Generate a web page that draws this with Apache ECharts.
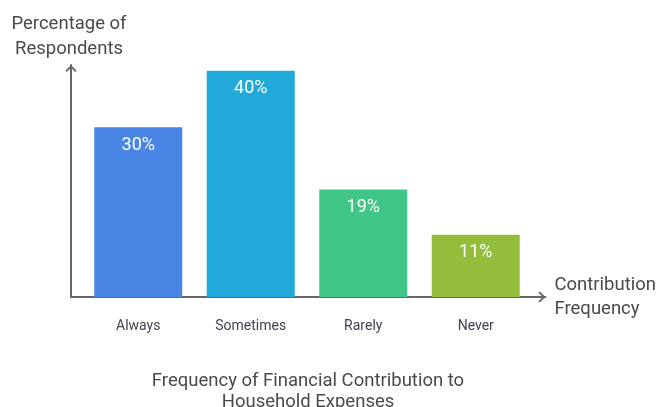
<!DOCTYPE html>
<html>
<head>
<meta charset="utf-8">
<script src="https://cdn.jsdelivr.net/npm/echarts@6/dist/echarts.min.js"></script>
<style>
  html, body { margin: 0; padding: 0; background: #ffffff; }
  #chart { width: 659px; height: 407px; }
</style>
</head>
<body>
<div id="chart"></div>
<script>
// Survey answers: how often respondents contribute to household expenses
const categories = ['Always', 'Sometimes', 'Rarely', 'Never'];
const percentages = [30, 40, 19, 11];
const barColors = ['#4a84e4', '#20a9d9', '#40c687', '#93bd3b'];

const titleText = 'Frequency of Financial Contribution to\nHousehold Expenses';
const yName = 'Percentage of\nRespondents';
const xName = 'Contribution\nFrequency';

const FONT = 'Roboto, "Noto Sans", sans-serif';
// open chevron pointing up; ECharts rotates it along each axis
const chevron = 'path://M0,5.6 L5.5,0 L11,5.6 L9.7,6.9 L5.5,2.6 L1.3,6.9 Z';

const chart = echarts.init(document.getElementById('chart'));
chart.setOption({
  animation: false,
  backgroundColor: '#ffffff',
  title: {
    text: titleText,
    left: 303,
    top: 366,
    textAlign: 'center',
    textStyle: { fontFamily: FONT, fontSize: 18.5, fontWeight: 'normal', color: '#4a4a4a', lineHeight: 21 }
  },
  grid: [
    // bars
    { left: 82, width: 450, top: 65, bottom: 110 },
    // axis frame with arrows
    { left: 71, right: 111, top: 65, bottom: 110 }
  ],
  xAxis: [
    {
      type: 'category',
      gridIndex: 0,
      data: categories,
      boundaryGap: true,
      axisLine: { show: false },
      axisTick: { show: false },
      axisLabel: { margin: 22, fontFamily: FONT, fontSize: 14, color: '#3d4550' }
    },
    {
      type: 'value',
      gridIndex: 1,
      min: 0, max: 1,
      name: xName,
      nameLocation: 'end',
      nameGap: 9,
      nameTextStyle: { fontFamily: FONT, fontSize: 18.5, color: '#4a4a4a', align: 'left', verticalAlign: 'middle', lineHeight: 24, padding: [2, 0, 0, 0] },
      axisLine: {
        show: true,
        lineStyle: { color: '#666666', width: 2 },
        symbol: ['none', chevron],
        symbolSize: [12, 7],
        symbolOffset: [0, -3.5]
      },
      axisTick: { show: false },
      axisLabel: { show: false },
      splitLine: { show: false }
    }
  ],
  yAxis: [
    {
      type: 'value',
      gridIndex: 0,
      min: 0, max: 41,
      show: false
    },
    {
      type: 'value',
      gridIndex: 1,
      min: 0, max: 1,
      name: yName,
      nameLocation: 'end',
      nameGap: 3,
      nameTextStyle: { fontFamily: FONT, fontSize: 18.5, color: '#4a4a4a', align: 'center', verticalAlign: 'bottom', lineHeight: 25, padding: [0, 4, 0, 0] },
      axisLine: {
        show: true,
        lineStyle: { color: '#666666', width: 2 },
        symbol: ['none', chevron],
        symbolSize: [12, 7],
        symbolOffset: [0, -3.5]
      },
      axisTick: { show: false },
      axisLabel: { show: false },
      splitLine: { show: false }
    }
  ],
  series: [{
    type: 'bar',
    xAxisIndex: 0,
    yAxisIndex: 0,
    barWidth: 88,
    data: percentages.map((v, i) => ({ value: v, itemStyle: { color: barColors[i] } })),
    label: {
      show: true,
      position: 'insideTop',
      distance: 9,
      formatter: '{c}%',
      fontFamily: FONT,
      fontSize: 18,
      color: '#ffffff'
    }
  }]
});
</script>
</body>
</html>
